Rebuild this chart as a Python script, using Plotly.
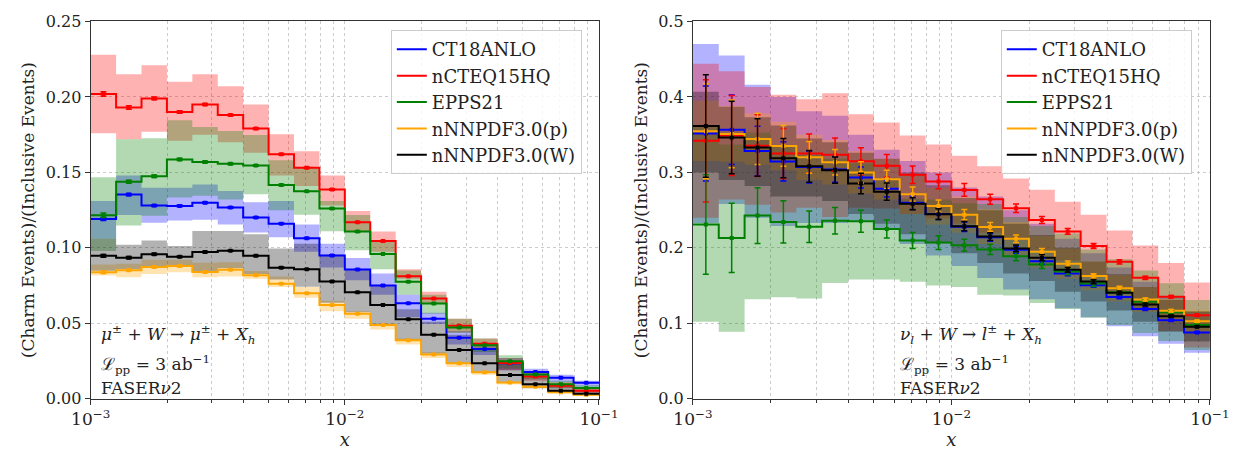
import numpy as np
import plotly.graph_objects as go

# ---------------- data ----------------
x_edges = list(np.logspace(-3, -1, 21))
x_tickvals = [1e-3, 1e-2, 1e-1]
x_ticktext = ["10<sup>−3</sup>", "10<sup>−2</sup>", "10<sup>−1</sup>"]

series_names = ["CT18ANLO", "nCTEQ15HQ", "EPPS21", "nNNPDF3.0(p)", "nNNPDF3.0(W)"]
series_colors = ["#0000ff", "#ff0000", "#008000", "#ffa500", "#000000"]
band_colors = ["rgba(0,0,255,0.3)", "rgba(255,0,0,0.3)", "rgba(0,128,0,0.3)",
               "rgba(255,165,0,0.3)", "rgba(0,0,0,0.3)"]

# ---- left panel: mu + W -> mu + X_h ----
ct18_mu = [0.1191, 0.1353, 0.1280, 0.1278, 0.1299, 0.1267, 0.1201, 0.1160, 0.1064, 0.0950,
           0.0857, 0.0751, 0.0633, 0.0531, 0.0404, 0.0330, 0.0235, 0.0177, 0.0140, 0.0106]
ct18_mu_lo = [0.106, 0.1218, 0.1166, 0.1182, 0.1187, 0.1155, 0.1102, 0.107, 0.0975, 0.087,
              0.0785, 0.069, 0.0541, 0.0495, 0.036, 0.029, 0.019, 0.015, 0.011, 0.008]
ct18_mu_hi = [0.131, 0.148, 0.1398, 0.1398, 0.142, 0.1377, 0.1303, 0.131, 0.1155, 0.1028,
              0.0933, 0.083, 0.069, 0.057, 0.045, 0.036, 0.027, 0.020, 0.016, 0.012]
ct18_mu_err = [0.0010, 0.0008, 0.0006, 0.0006, 0.0005, 0.0005, 0.0005, 0.0004, 0.0004, 0.0004,
               0.0003, 0.0003, 0.0003, 0.0003, 0.0002, 0.0002, 0.0002, 0.0002, 0.0001, 0.0001]

nctq_mu = [0.202, 0.193, 0.199, 0.190, 0.195, 0.188, 0.179, 0.162, 0.153, 0.1387,
           0.117, 0.1045, 0.0812, 0.0664, 0.0484, 0.0365, 0.0237, 0.0148, 0.0087, 0.0054]
nctq_mu_lo = [0.176, 0.172, 0.177, 0.171, 0.175, 0.170, 0.163, 0.148, 0.141, 0.128,
              0.111, 0.0975, 0.0795, 0.063, 0.044, 0.033, 0.019, 0.012, 0.007, 0.004]
nctq_mu_hi = [0.228, 0.215, 0.221, 0.210, 0.215, 0.207, 0.195, 0.1753, 0.164, 0.148,
              0.1244, 0.1108, 0.0859, 0.071, 0.053, 0.040, 0.027, 0.017, 0.011, 0.007]
nctq_mu_err = [0.0015, 0.0011, 0.0009, 0.0008, 0.0007, 0.0006, 0.0006, 0.0005, 0.0005, 0.0005,
               0.0004, 0.0004, 0.0004, 0.0003, 0.0003, 0.0003, 0.0002, 0.0002, 0.0002, 0.0001]

epps_mu = [0.1216, 0.1438, 0.1474, 0.1586, 0.1569, 0.1557, 0.1546, 0.1417, 0.1375, 0.126,
           0.1108, 0.096, 0.0776, 0.0632, 0.0472, 0.0355, 0.0249, 0.0161, 0.0097, 0.0072]
epps_mu_lo = [0.098, 0.1148, 0.1212, 0.1334, 0.1345, 0.132, 0.1356, 0.125, 0.122, 0.111,
              0.0985, 0.0859, 0.069, 0.0563, 0.0436, 0.031, 0.020, 0.013, 0.007, 0.005]
epps_mu_hi = [0.1468, 0.172, 0.1726, 0.1846, 0.180, 0.1775, 0.1747, 0.158, 0.1535, 0.131,
              0.1218, 0.1049, 0.085, 0.069, 0.053, 0.040, 0.0288, 0.018, 0.012, 0.009]
epps_mu_err = [0.0015, 0.0010, 0.0008, 0.0007, 0.0006, 0.0006, 0.0005, 0.0005, 0.0004, 0.0004,
               0.0004, 0.0003, 0.0003, 0.0003, 0.0002, 0.0002, 0.0002, 0.0002, 0.0001, 0.0001]

nnp_mu = [0.0838, 0.0852, 0.0874, 0.0880, 0.0840, 0.0855, 0.0819, 0.0763, 0.0700, 0.0622,
          0.0563, 0.0489, 0.0388, 0.0294, 0.0235, 0.0176, 0.0108, 0.0080, 0.0044, 0.0027]
nnp_mu_lo = [0.0817, 0.0806, 0.0827, 0.0838, 0.0806, 0.0810, 0.0795, 0.0740, 0.0670, 0.0580,
             0.0530, 0.0460, 0.0360, 0.0270, 0.0210, 0.0160, 0.0095, 0.0070, 0.0035, 0.0020]
nnp_mu_hi = [0.0890, 0.0895, 0.0922, 0.0922, 0.0901, 0.0905, 0.0846, 0.0810, 0.0740, 0.0650,
             0.0580, 0.0500, 0.0400, 0.0310, 0.0240, 0.0180, 0.0110, 0.0090, 0.0050, 0.0030]
nnp_mu_err = [0.0008, 0.0006, 0.0005, 0.0005, 0.0004, 0.0004, 0.0004, 0.0003, 0.0003, 0.0003,
              0.0003, 0.0002, 0.0002, 0.0002, 0.0002, 0.0001, 0.0001, 0.0001, 0.0001, 0.0001]

nnw_mu = [0.0947, 0.0935, 0.0958, 0.0941, 0.0973, 0.0981, 0.0947, 0.0869, 0.0859, 0.0778,
          0.0706, 0.0622, 0.0527, 0.0425, 0.0324, 0.0235, 0.0157, 0.0097, 0.0053, 0.0034]
nnw_mu_lo = [0.0848, 0.0859, 0.0880, 0.0880, 0.0838, 0.0865, 0.0827, 0.0790, 0.0742, 0.0637,
             0.0573, 0.0489, 0.0383, 0.0298, 0.0235, 0.0171, 0.0108, 0.0070, 0.0040, 0.0025]
nnw_mu_hi = [0.1060, 0.1020, 0.1049, 0.1013, 0.1112, 0.1112, 0.1091, 0.0996, 0.1028, 0.0954,
             0.0859, 0.0753, 0.0594, 0.0510, 0.0425, 0.0330, 0.0235, 0.0150, 0.0095, 0.0060]
nnw_mu_err = [0.0009, 0.0007, 0.0006, 0.0005, 0.0005, 0.0004, 0.0004, 0.0004, 0.0003, 0.0003,
              0.0003, 0.0002, 0.0002, 0.0002, 0.0002, 0.0001, 0.0001, 0.0001, 0.0001, 0.0001]

# ---- right panel: nu_l + W -> l + X_h ----
ct18_nu = [0.3515, 0.3566, 0.3283, 0.3145, 0.3070, 0.3040, 0.2933, 0.2783, 0.2598, 0.2450,
           0.2280, 0.2140, 0.1975, 0.1823, 0.1662, 0.1506, 0.1349, 0.1189, 0.1041, 0.0880]
ct18_nu_lo = [0.233, 0.258, 0.240, 0.229, 0.233, 0.233, 0.236, 0.226, 0.205, 0.190,
              0.176, 0.160, 0.145, 0.132, 0.120, 0.108, 0.096, 0.083, 0.073, 0.061]
ct18_nu_hi = [0.470, 0.455, 0.416, 0.400, 0.381, 0.375, 0.350, 0.330, 0.315, 0.300,
              0.280, 0.268, 0.250, 0.232, 0.212, 0.193, 0.174, 0.155, 0.135, 0.115]
ct18_nu_err = [0.063, 0.046, 0.033, 0.026, 0.021, 0.017, 0.014, 0.011, 0.009, 0.0075,
               0.0063, 0.0052, 0.0045, 0.0040, 0.0032, 0.0027, 0.0022, 0.0018, 0.0014, 0.0011]

nctq_nu = [0.3418, 0.3490, 0.3354, 0.3250, 0.3250, 0.3235, 0.3147, 0.3087, 0.2970, 0.2878,
           0.2768, 0.2644, 0.2525, 0.2370, 0.2217, 0.2025, 0.1815, 0.1603, 0.1353, 0.1108]
nctq_nu_lo = [0.240, 0.264, 0.257, 0.247, 0.253, 0.241, 0.253, 0.252, 0.245, 0.239,
              0.232, 0.220, 0.212, 0.197, 0.183, 0.162, 0.140, 0.117, 0.090, 0.068]
nctq_nu_hi = [0.444, 0.434, 0.413, 0.403, 0.397, 0.405, 0.377, 0.366, 0.349, 0.337,
              0.322, 0.308, 0.292, 0.277, 0.261, 0.244, 0.223, 0.203, 0.180, 0.154]
nctq_nu_err = [0.081, 0.053, 0.041, 0.033, 0.026, 0.022, 0.018, 0.015, 0.0116, 0.0095,
               0.0085, 0.0065, 0.0057, 0.0046, 0.0038, 0.0032, 0.0028, 0.0022, 0.0017, 0.0013]

epps_nu = [0.2310, 0.2132, 0.2428, 0.2344, 0.2280, 0.2360, 0.2352, 0.2250, 0.2098, 0.2070,
           0.2034, 0.1980, 0.1890, 0.1780, 0.1688, 0.1527, 0.1413, 0.1286, 0.1146, 0.0977]
epps_nu_lo = [0.102, 0.089, 0.132, 0.1345, 0.133, 0.1535, 0.158, 0.158, 0.155, 0.150,
              0.148, 0.138, 0.137, 0.127, 0.119, 0.1075, 0.0977, 0.0872, 0.0765, 0.0647]
epps_nu_hi = [0.360, 0.337, 0.353, 0.334, 0.323, 0.318, 0.312, 0.292, 0.265, 0.264,
              0.259, 0.258, 0.241, 0.229, 0.219, 0.198, 0.185, 0.170, 0.153, 0.131]
epps_nu_err = [0.066, 0.046, 0.037, 0.028, 0.021, 0.0175, 0.0145, 0.012, 0.0105, 0.009,
               0.008, 0.0068, 0.006, 0.0052, 0.0045, 0.004, 0.0034, 0.0028, 0.0023, 0.0018]

nnp_nu = [0.3545, 0.3510, 0.3443, 0.3350, 0.3200, 0.3135, 0.3000, 0.2910, 0.2712, 0.2555,
          0.2440, 0.2278, 0.2120, 0.1950, 0.1790, 0.1628, 0.1465, 0.1316, 0.1167, 0.1028]
nnp_nu_lo = [0.315, 0.314, 0.310, 0.303, 0.290, 0.284, 0.272, 0.264, 0.245, 0.231,
             0.220, 0.205, 0.190, 0.174, 0.159, 0.144, 0.129, 0.115, 0.101, 0.089]
nnp_nu_hi = [0.395, 0.388, 0.378, 0.367, 0.350, 0.343, 0.328, 0.318, 0.297, 0.280,
             0.268, 0.251, 0.234, 0.216, 0.199, 0.182, 0.164, 0.148, 0.132, 0.117]
nnp_nu_err = [0.063, 0.045, 0.034, 0.027, 0.021, 0.017, 0.014, 0.012, 0.0095, 0.008,
              0.0068, 0.0058, 0.005, 0.0043, 0.0036, 0.003, 0.0025, 0.002, 0.0016, 0.0012]

nnw_nu = [0.3615, 0.3462, 0.3330, 0.3188, 0.3080, 0.3030, 0.2853, 0.2745, 0.2585, 0.2447,
          0.2288, 0.2149, 0.1992, 0.1870, 0.1710, 0.1553, 0.1405, 0.1248, 0.1095, 0.0956]
nnw_nu_lo = [0.300, 0.290, 0.282, 0.268, 0.268, 0.262, 0.245, 0.232, 0.218, 0.206,
             0.193, 0.180, 0.166, 0.156, 0.142, 0.129, 0.117, 0.102, 0.089, 0.076]
nnw_nu_hi = [0.407, 0.387, 0.373, 0.362, 0.345, 0.340, 0.326, 0.318, 0.300, 0.283,
             0.266, 0.250, 0.232, 0.217, 0.200, 0.182, 0.165, 0.148, 0.131, 0.116]
nnw_nu_err = [0.068, 0.048, 0.038, 0.026, 0.021, 0.0175, 0.0137, 0.0115, 0.008, 0.007,
              0.006, 0.005, 0.0045, 0.004, 0.0034, 0.0028, 0.0023, 0.0019, 0.0015, 0.0012]

left_data = [
    (ct18_mu, ct18_mu_lo, ct18_mu_hi, ct18_mu_err),
    (nctq_mu, nctq_mu_lo, nctq_mu_hi, nctq_mu_err),
    (epps_mu, epps_mu_lo, epps_mu_hi, epps_mu_err),
    (nnp_mu, nnp_mu_lo, nnp_mu_hi, nnp_mu_err),
    (nnw_mu, nnw_mu_lo, nnw_mu_hi, nnw_mu_err),
]
right_data = [
    (ct18_nu, ct18_nu_lo, ct18_nu_hi, ct18_nu_err),
    (nctq_nu, nctq_nu_lo, nctq_nu_hi, nctq_nu_err),
    (epps_nu, epps_nu_lo, epps_nu_hi, epps_nu_err),
    (nnp_nu, nnp_nu_lo, nnp_nu_hi, nnp_nu_err),
    (nnw_nu, nnw_nu_lo, nnw_nu_hi, nnw_nu_err),
]

# ---------------- figure ----------------
W, H = 1258, 450
SERIF = "DejaVu Serif"
x_centers = [float(np.sqrt(x_edges[i] * x_edges[i + 1])) for i in range(20)]

fig = go.Figure()


def stepy(v):
    return list(v) + [v[-1]]


def add_panel(data, xa, ya, legend_name):
    for (c, lo, hi, err), col in zip(data, band_colors):
        fig.add_trace(go.Scatter(x=x_edges, y=stepy(lo), mode="lines", line=dict(width=0, shape="hv"),
                                 showlegend=False, hoverinfo="skip", xaxis=xa, yaxis=ya))
        fig.add_trace(go.Scatter(x=x_edges, y=stepy(hi), mode="lines", line=dict(width=0, shape="hv"),
                                 fill="tonexty", fillcolor=col, showlegend=False, hoverinfo="skip",
                                 xaxis=xa, yaxis=ya))
    for (c, lo, hi, err), col, name in zip(data, series_colors, series_names):
        fig.add_trace(go.Scatter(x=x_edges, y=stepy(c), mode="lines", name=name,
                                 line=dict(color=col, width=2, shape="hv"),
                                 legend=legend_name, xaxis=xa, yaxis=ya))
    for (c, lo, hi, err), col in zip(data, series_colors):
        fig.add_trace(go.Scatter(x=x_centers, y=c, mode="markers",
                                 marker=dict(symbol="square", size=4, color=col),
                                 error_y=dict(type="data", array=err, visible=True, color=col,
                                              thickness=1.5, width=3),
                                 showlegend=False, xaxis=xa, yaxis=ya))


add_panel(left_data, "x", "y", "legend")
add_panel(right_data, "x2", "y2", "legend2")

minor_vals = [k * 10.0 ** e for e in (-3, -2) for k in range(2, 10)]
grid_col = "rgba(160,160,160,0.55)"
ydom = [1 - 407 / H, 1 - 13 / H]


def xaxis_cfg(domain, anchor):
    return dict(domain=domain, anchor=anchor, type="log", range=[-3, -1],
                tickmode="array", tickvals=x_tickvals, ticktext=x_ticktext,
                showline=True, linecolor="#333", linewidth=1.2, mirror=True,
                ticks="outside", ticklen=5, tickcolor="#333",
                tickfont=dict(family=SERIF, size=17, color="#222"),
                showgrid=True, gridcolor=grid_col, griddash="dot", gridwidth=1,
                minor=dict(tickmode="array", tickvals=minor_vals, ticks="outside", ticklen=3,
                           tickcolor="#333", showgrid=True, gridcolor=grid_col, griddash="dot"),
                title=dict(text="<i>x</i>", font=dict(family=SERIF, size=18, color="#222"), standoff=4),
                zeroline=False)


def yaxis_cfg(anchor, rng, dtick, fmt):
    return dict(domain=ydom, anchor=anchor, range=rng, dtick=dtick, tickformat=fmt,
                showline=True, linecolor="#333", linewidth=1.2, mirror=True,
                ticks="outside", ticklen=5, tickcolor="#333",
                tickfont=dict(family=SERIF, size=16, color="#222"),
                showgrid=True, gridcolor=grid_col, griddash="dot", gridwidth=1, zeroline=False,
                title=dict(text="(Charm Events)/(Inclusive Events)",
                           font=dict(family=SERIF, size=17, color="#222"), standoff=6))


legend_common = dict(font=dict(family=SERIF, size=18, color="#222"), bgcolor="rgba(255,255,255,0.85)",
                     bordercolor="#cccccc", borderwidth=1, xanchor="left", yanchor="top",
                     tracegroupgap=0, traceorder="normal")

fig.update_layout(
    width=W, height=H, margin=dict(l=0, r=0, t=0, b=0),
    paper_bgcolor="white", plot_bgcolor="white",
    xaxis=xaxis_cfg([73 / W, 598 / W], "y"),
    yaxis=yaxis_cfg("x", [0, 0.25], 0.05, ".2f"),
    xaxis2=xaxis_cfg([695 / W, 1229 / W], "y2"),
    yaxis2=yaxis_cfg("x2", [0, 0.5], 0.1, ".1f"),
    legend=dict(x=383 / W, y=1 - 22 / H, **legend_common),
    legend2=dict(x=1013 / W, y=1 - 22 / H, **legend_common),
)

txt_font = dict(family=SERIF, size=17, color="#222")
left_texts = ["<i>μ</i><sup>±</sup> + <i>W</i> → <i>μ</i><sup>±</sup> + <i>X<sub>h</sub></i>",
              "ℒ<sub>pp</sub> = 3 ab<sup>−1</sup>",
              "FASER<i>ν</i>2"]
right_texts = ["<i>ν<sub>l</sub></i> + <i>W</i> → <i>l</i><sup>±</sup> + <i>X<sub>h</sub></i>",
               "ℒ<sub>pp</sub> = 3 ab<sup>−1</sup>",
               "FASER<i>ν</i>2"]
text_y = [340, 371, 396]
for t, yy in zip(left_texts, text_y):
    fig.add_annotation(x=82 / W, y=1 - yy / H, xref="paper", yref="paper", text=t, showarrow=False,
                       xanchor="left", yanchor="middle", font=txt_font)
for t, yy in zip(right_texts, text_y):
    fig.add_annotation(x=907 / W, y=1 - yy / H, xref="paper", yref="paper", text=t, showarrow=False,
                       xanchor="left", yanchor="middle", font=txt_font)

fig.write_html("out.html")
